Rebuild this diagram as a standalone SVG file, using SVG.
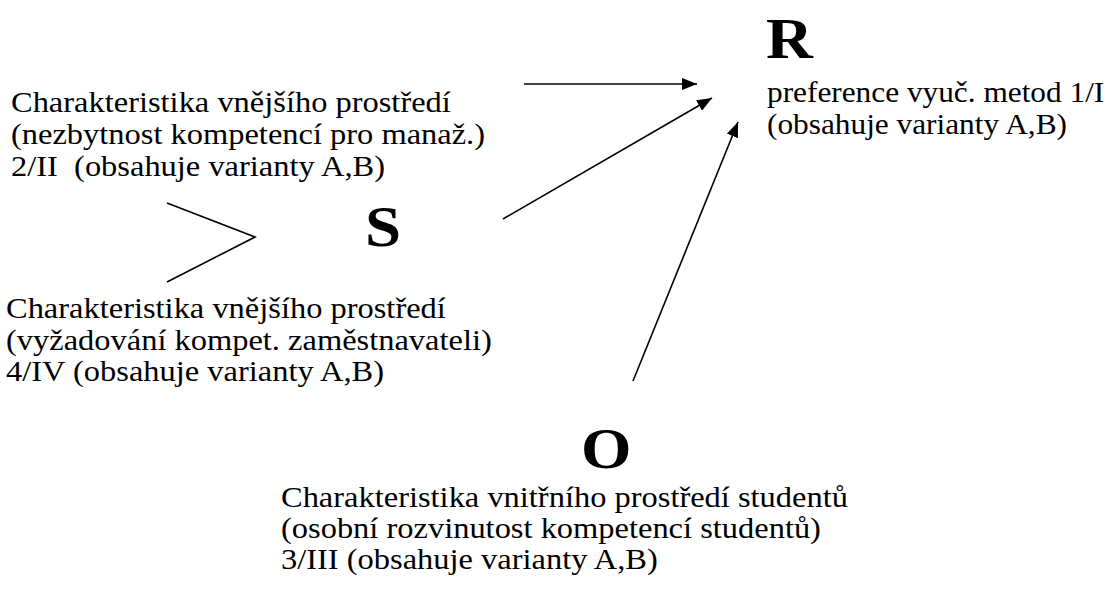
<svg xmlns="http://www.w3.org/2000/svg" width="1114" height="592" viewBox="0 0 1114 592">
  <style>
    .t { font-family: "Liberation Serif", "Times New Roman", serif; font-size: 29px; fill: #000; }
    .big { font-family: "Liberation Serif", "Times New Roman", serif; font-size: 58px; font-weight: bold; fill: #000; }
    .ln { stroke: #000; stroke-width: 1.6; fill: none; }
  </style>
  <defs>
    <marker id="ah" viewBox="0 0 10 10" refX="10" refY="5" markerWidth="15" markerHeight="12" markerUnits="userSpaceOnUse" orient="auto" preserveAspectRatio="none">
      <path d="M0,0 L10,5 L0,10 Z" fill="#000"/>
    </marker>
  </defs>
  <rect width="1114" height="592" fill="#fff"/>

  <!-- R: preferred teaching methods (text is set slightly wide) -->
  <g id="node-r">
    <text class="big" transform="translate(766 58) scale(1.12 1)">R</text>
    <text class="t" transform="translate(767 102) scale(1.08 1)">preference vyuč. metod 1/I</text>
    <text class="t" transform="translate(767 134) scale(1.08 1)">(obsahuje varianty A,B)</text>
  </g>

  <!-- external environment: necessity of competences -->
  <g id="node-ext1">
    <text class="t" transform="translate(11 112) scale(1.12 1)">Charakteristika vnějšího prostředí</text>
    <text class="t" transform="translate(11 144) scale(1.12 1)">(nezbytnost kompetencí pro manaž.)</text>
    <text class="t" transform="translate(11 176) scale(1.12 1)" xml:space="preserve">2/II  (obsahuje varianty A,B)</text>
  </g>

  <!-- S -->
  <g id="node-s">
    <text class="big" transform="translate(365 246) scale(1.12 1)">S</text>
  </g>

  <!-- external environment: employer requirements -->
  <g id="node-ext2">
    <text class="t" transform="translate(6 318) scale(1.12 1)">Charakteristika vnějšího prostředí</text>
    <text class="t" transform="translate(6 350) scale(1.12 1)">(vyžadování kompet. zaměstnavateli)</text>
    <text class="t" transform="translate(6 381) scale(1.12 1)">4/IV (obsahuje varianty A,B)</text>
  </g>

  <!-- O: students' inner environment -->
  <g id="node-o">
    <text class="big" transform="translate(581 468) scale(1.12 1)">O</text>
    <text class="t" transform="translate(281 507) scale(1.12 1)">Charakteristika vnitřního prostředí studentů</text>
    <text class="t" transform="translate(281 538) scale(1.12 1)">(osobní rozvinutost kompetencí studentů)</text>
    <text class="t" transform="translate(281 569) scale(1.12 1)">3/III (obsahuje varianty A,B)</text>
  </g>

  <g id="connectors">
    <polyline class="ln" points="167,203 255,237 167,282"/>
    <line class="ln" x1="524" y1="84" x2="697" y2="84" marker-end="url(#ah)"/>
    <line class="ln" x1="503" y1="219" x2="712" y2="98" marker-end="url(#ah)"/>
    <line class="ln" x1="633" y1="381" x2="738" y2="122" marker-end="url(#ah)"/>
  </g>
</svg>
